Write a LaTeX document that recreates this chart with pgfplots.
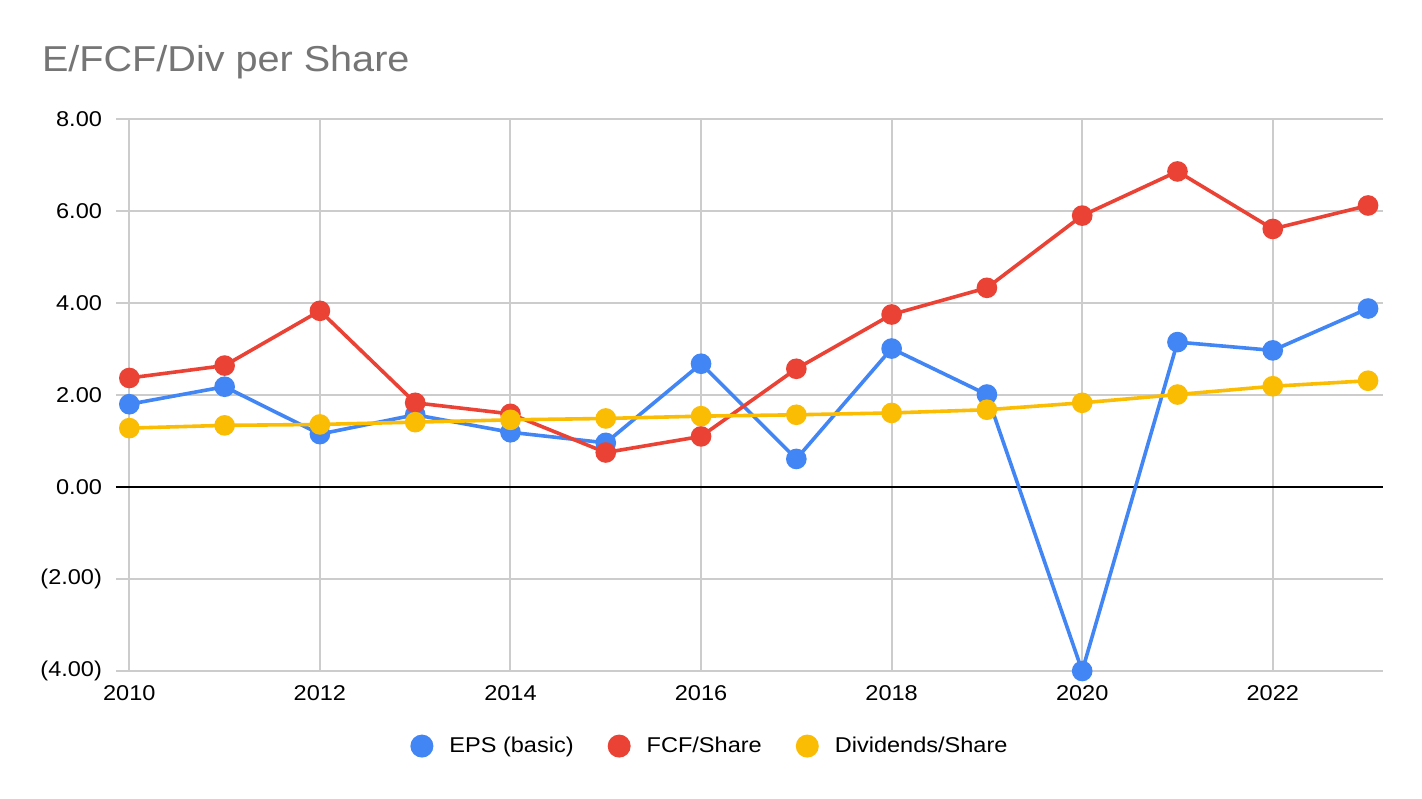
\documentclass[border=0pt]{standalone}
\usepackage{pgfplots}
\pgfplotsset{compat=1.18}
\usepackage{fontspec}
\setmainfont{Liberation Sans}[FakeStretch=1.1]
\definecolor{cblue}{HTML}{4285F4}
\definecolor{cred}{HTML}{EA4335}
\definecolor{cyellow}{HTML}{FBBC04}
\definecolor{cgrid}{HTML}{CCCCCC}
\definecolor{ctitle}{HTML}{757575}
\begin{document}
\begin{tikzpicture}
\path[fill=white] (0,0) rectangle (711pt,399pt);
\node[anchor=base west, text=ctitle, font=\fontsize{18}{22}\selectfont, inner sep=0pt] at (20.8pt,363.2pt) {E/FCF/Div per Share};
\begin{axis}[
  at={(58pt,63.5pt)}, anchor=south west,
  scale only axis, width=633.5pt, height=276pt,
  xmin=2009.86, xmax=2023.157, ymin=-4, ymax=8,
  axis line style={draw=none},
  xtick={2010,2012,...,2022},
  xticklabels={2010,2012,2014,2016,2018,2020,2022},
  ytick={-4,-2,0,2,4,6,8},
  yticklabels={(4.00),(2.00),0.00,2.00,4.00,6.00,8.00},
  extra y ticks={0}, extra y tick labels={},
  extra y tick style={grid style={black, line width=0.8pt}},
  major tick length=0pt,
  xmajorgrids, ymajorgrids,
  grid style={cgrid, line width=1pt},
  tick label style={font=\fontsize{10.7}{13}\selectfont, text=black},
  yticklabel style={xshift=-3.5pt},
  xticklabel style={yshift=-3.9pt},
  legend columns=3,
  legend style={draw=none, fill=none, at={(0.468,-0.136)}, anchor=center,
    font=\fontsize{10.7}{13}\selectfont,
    nodes={inner xsep=0pt},
    /tikz/every odd column/.append style={column sep=8pt},
    /tikz/every even column/.append style={column sep=17pt}},
  legend image code/.code={\fill[#1, draw=none] (0pt,0pt) circle (5.75pt);},
  every axis plot/.append style={line width=1.8pt, mark=*, mark size=4.25pt},
]
\addplot[color=cblue, mark options={fill=cblue, draw=none}] coordinates {
(2010,1.80) (2011,2.18) (2012,1.15) (2013,1.57) (2014,1.19) (2015,0.96) (2016,2.68)
(2017,0.61) (2018,3.01) (2019,2.01) (2020,-4.00) (2021,3.15) (2022,2.97) (2023,3.88)};
\addlegendentry{EPS (basic)}
\addplot[color=cred, mark options={fill=cred, draw=none}] coordinates {
(2010,2.37) (2011,2.64) (2012,3.83) (2013,1.83) (2014,1.59) (2015,0.75) (2016,1.10)
(2017,2.57) (2018,3.75) (2019,4.33) (2020,5.90) (2021,6.86) (2022,5.61) (2023,6.12)};
\addlegendentry{FCF/Share}
\addplot[color=cyellow, mark options={fill=cyellow, draw=none}] coordinates {
(2010,1.28) (2011,1.34) (2012,1.36) (2013,1.41) (2014,1.46) (2015,1.49) (2016,1.54)
(2017,1.57) (2018,1.61) (2019,1.68) (2020,1.83) (2021,2.01) (2022,2.19) (2023,2.31)};
\addlegendentry{Dividends/Share}
\end{axis}
\end{tikzpicture}
\end{document}
